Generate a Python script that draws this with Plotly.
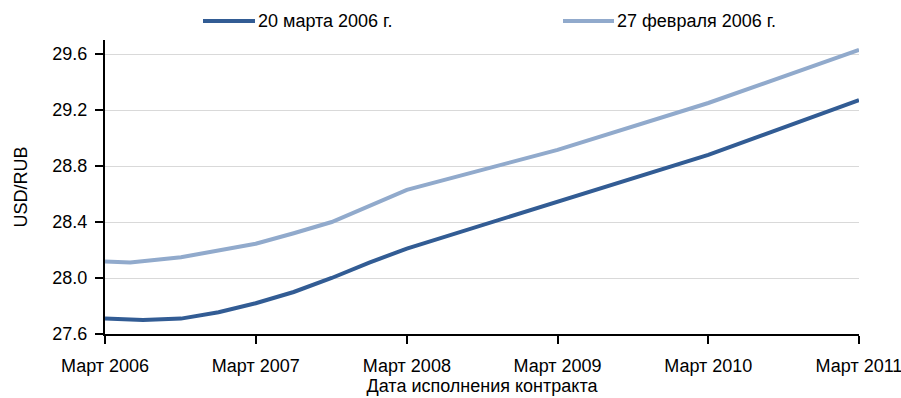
import plotly.graph_objects as go

# Forward USD/RUB rates by contract execution date
dates_mar20 = ["2006-03-01", "2006-06-01", "2006-09-01", "2006-12-01",
               "2007-03-01", "2007-06-01", "2007-09-01", "2007-12-01",
               "2008-03-01", "2009-03-01", "2010-03-01", "2011-03-01"]
rates_mar20 = [27.71, 27.70, 27.71, 27.755, 27.82, 27.90, 28.00, 28.11,
               28.21, 28.545, 28.88, 29.27]

dates_feb27 = ["2006-03-01", "2006-05-01", "2006-09-01", "2006-12-01",
               "2007-03-01", "2007-06-01", "2007-09-01", "2008-03-01",
               "2009-03-01", "2010-03-01", "2011-03-01"]
rates_feb27 = [28.117, 28.11, 28.148, 28.195, 28.245, 28.32, 28.40, 28.63,
               28.915, 29.25, 29.63]

series_names = ["20 марта 2006 г.", "27 февраля 2006 г."]
series_colors = ["#325C94", "#91AACC"]

tick_dates = ["2006-03-01", "2007-03-01", "2008-03-01", "2009-03-01",
              "2010-03-01", "2011-03-01"]
tick_labels = ["Март 2006", "Март 2007", "Март 2008", "Март 2009",
               "Март 2010", "Март 2011"]
y_ticks = [27.6, 28.0, 28.4, 28.8, 29.2, 29.6]

FONT = "Arial, Liberation Sans, sans-serif"
FS = 18
W, H = 901, 398
ML, MR, MT, MB = 105, 42, 40, 64

fig = go.Figure()
for xs, ys, name, color in [(dates_mar20, rates_mar20, series_names[0], series_colors[0]),
                            (dates_feb27, rates_feb27, series_names[1], series_colors[1])]:
    fig.add_trace(go.Scatter(x=xs, y=ys, mode="lines", name=name,
                             line=dict(color=color, width=4),
                             showlegend=False))

# Legend drawn above the plot area: colour sample + label
pw, ph = W - ML - MR, H - MT - MB
def px_x(p):
    return (p - ML) / pw
def px_y(p):
    return (H - MB - p) / ph

legend_items = [(203, 255, 258), (563, 614, 617)]
for (x0, x1, xt), name, color in zip(legend_items, series_names, series_colors):
    fig.add_shape(type="line", xref="paper", yref="paper",
                  x0=px_x(x0), x1=px_x(x1), y0=px_y(21), y1=px_y(21),
                  line=dict(color=color, width=4))
    fig.add_annotation(xref="paper", yref="paper", x=px_x(xt), y=px_y(21),
                       text=name, showarrow=False, xanchor="left",
                       yanchor="middle", xshift=-2,
                       font=dict(family=FONT, size=FS, color="#000000"))

fig.update_layout(
    width=W, height=H,
    margin=dict(l=ML, r=MR, t=MT, b=MB, pad=0),
    paper_bgcolor="white", plot_bgcolor="white",
    font=dict(family=FONT, size=FS, color="#000000"),
    xaxis=dict(
        type="date", automargin=False,
        range=["2006-03-01", "2011-03-01"],
        tickvals=tick_dates, ticktext=tick_labels,
        showgrid=False, zeroline=False,
        showline=True, linecolor="#000000", linewidth=2,
        ticks="outside", ticklen=8, tickwidth=2, tickcolor="#000000",
        ticklabelstandoff=6, ticklabeloverflow="allow",
        tickfont=dict(family=FONT, size=FS),
        title=dict(text="Дата исполнения контракта",
                   font=dict(family=FONT, size=FS), standoff=5),
    ),
    yaxis=dict(
        automargin=False,
        range=[27.6, 29.7],
        tickvals=y_ticks, ticktext=[f"{v:.1f}" for v in y_ticks],
        showgrid=True, gridcolor="#D9D9D9", gridwidth=1,
        zeroline=False,
        showline=True, linecolor="#000000", linewidth=2,
        ticks="outside", ticklen=8, tickwidth=2, tickcolor="#000000",
        ticklabelstandoff=4,
        tickfont=dict(family=FONT, size=FS),
        title=dict(text="USD/RUB", font=dict(family=FONT, size=FS),
                   standoff=20),
    ),
)

fig.write_html("out.html")
